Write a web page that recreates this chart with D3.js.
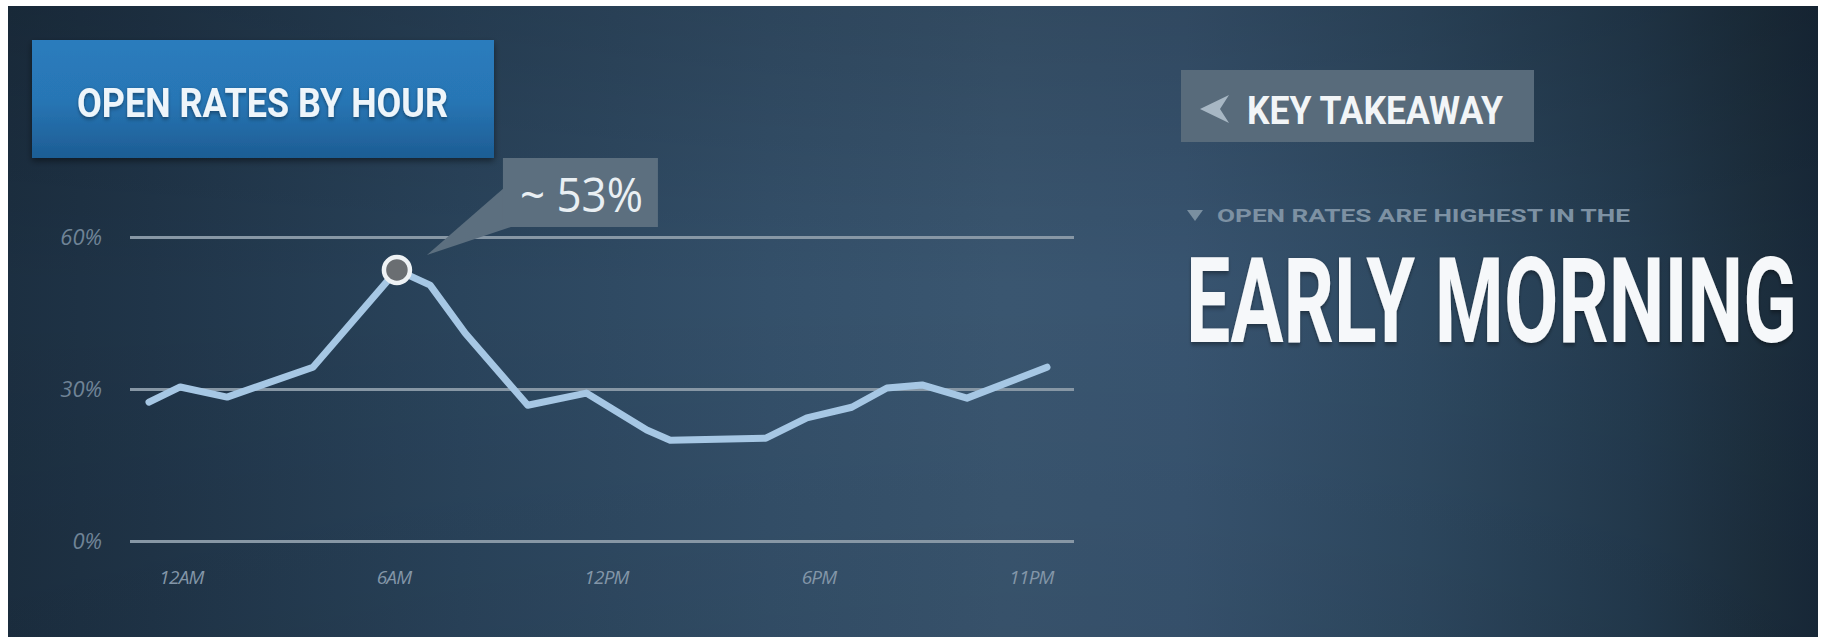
<!DOCTYPE html>
<html><head><meta charset="utf-8">
<script src="https://cdn.jsdelivr.net/npm/d3@7"></script>
<style>html,body{margin:0;padding:0;background:#fff;} svg{display:block}</style>
</head><body><svg id="c" width="1825" height="639"></svg>
<script>
// ---- data ----
const hours = [0, 0.8, 2, 4.2, 6.35, 7.2, 8.1, 9.7, 11.2, 12.75, 13.35, 15.8, 16.85, 18, 18.9, 19.8, 20.95, 23];
const openRates = [27.4, 30.4, 28.4, 34.3, 53.5, 50.5, 41.0, 26.8, 29.2, 21.9, 19.9, 20.3, 24.3, 26.4, 30.2, 30.8, 28.2, 34.3];
const yTicks = [0, 30, 60];
const yTickLabels = ["0%", "30%", "60%"];
const xTickLabels = ["12AM", "6AM", "12PM", "6PM", "11PM"];
const peakLabel = "~ 53%";
const titleText = "OPEN RATES BY HOUR";
const takeawayLabel = "KEY TAKEAWAY";
const takeawayIntro = "OPEN RATES ARE HIGHEST IN THE";
const takeawayMain = "EARLY MORNING";

const svg = d3.select("#c");
const defs = svg.append("defs");

// background gradient
const bg = defs.append("linearGradient").attr("id", "bg").attr("x1", 0).attr("x2", 1).attr("y1", 0).attr("y2", 0);
[[0, "#1c2f41"], [0.08, "#203549"], [0.25, "#2a445c"], [0.42, "#34506a"], [0.55, "#3a5670"],
 [0.65, "#385470"], [0.78, "#2e4961"], [0.9, "#233a4e"], [0.97, "#1c2e3d"], [1, "#18293a"]]
  .forEach(([o, c]) => bg.append("stop").attr("offset", o).attr("stop-color", c));
const vg = defs.append("linearGradient").attr("id", "vg").attr("x1", 0).attr("x2", 0).attr("y1", 0).attr("y2", 1);
vg.append("stop").attr("offset", 0).attr("stop-color", "#000").attr("stop-opacity", 0.14);
vg.append("stop").attr("offset", 0.45).attr("stop-color", "#000").attr("stop-opacity", 0);
vg.append("stop").attr("offset", 1).attr("stop-color", "#000").attr("stop-opacity", 0.06);
const tb = defs.append("linearGradient").attr("id", "tb").attr("x1", 0).attr("x2", 0).attr("y1", 0).attr("y2", 1);
tb.append("stop").attr("offset", 0).attr("stop-color", "#2a7cbd");
tb.append("stop").attr("offset", 0.5).attr("stop-color", "#2876b5");
tb.append("stop").attr("offset", 1).attr("stop-color", "#1d5d94");
const sh = defs.append("filter").attr("id", "sh").attr("x", "-10%").attr("y", "-10%").attr("width", "120%").attr("height", "140%");
sh.append("feDropShadow").attr("dx", 0).attr("dy", 3).attr("stdDeviation", 3).attr("flood-color", "#000").attr("flood-opacity", 0.45);
const tsh = defs.append("filter").attr("id", "tsh").attr("x", "-5%").attr("y", "-20%").attr("width", "110%").attr("height", "150%");
tsh.append("feDropShadow").attr("dx", 0).attr("dy", 1.5).attr("stdDeviation", 1.5).attr("flood-color", "#000").attr("flood-opacity", 0.4);

svg.append("rect").attr("x", 8).attr("y", 6).attr("width", 1810).attr("height", 631).attr("fill", "url(#bg)");
svg.append("rect").attr("x", 8).attr("y", 6).attr("width", 1810).attr("height", 631).attr("fill", "url(#vg)");

// scales
const x = d3.scaleLinear().domain([0, 23]).range([149, 1047]);
const y = d3.scaleLinear().domain([0, 60]).range([541, 237]);
const xLab = d3.scalePoint().domain(xTickLabels).range([181, 1031]);

// y axis with gridlines
const gAxis = svg.append("g").attr("transform", "translate(130,0)")
  .call(d3.axisLeft(y).tickValues(yTicks).tickSize(-944).tickPadding(28)
    .tickFormat((d, i) => yTickLabels[i]));
gAxis.select(".domain").remove();
gAxis.selectAll(".tick line").attr("stroke", "#8797a5").attr("stroke-width", 3);
gAxis.selectAll(".tick text").attr("fill", "#6f8396").attr("font-family", "'Open Sans', sans-serif")
  .attr("font-style", "italic").attr("font-size", 22).attr("dy", "0.32em");

// x labels
const gX = svg.append("g").attr("transform", "translate(0,541)")
  .call(d3.axisBottom(xLab).tickSize(0).tickPadding(30));
gX.select(".domain").remove();
gX.selectAll(".tick text").attr("fill", "#8396a8").attr("font-family", "'Open Sans', sans-serif")
  .attr("font-style", "italic").attr("font-size", 19).attr("letter-spacing", -0.8);

// line
const line = d3.line().x(i => x(hours[i])).y(i => y(openRates[i]));
svg.append("path").attr("d", line(d3.range(hours.length)))
  .attr("fill", "none").attr("stroke", "#a6c7e4").attr("stroke-width", 7)
  .attr("stroke-linejoin", "round").attr("stroke-linecap", "round");

// peak marker + callout
const pi = d3.maxIndex(openRates);
const px = x(hours[pi]), py = y(openRates[pi]);
const cb = { x: px + 106, y: 158, w: 155, h: 69 };
svg.append("path")
  .attr("d", `M${px + 30},${py - 15} L${cb.x + 1},${cb.y + 30} L${cb.x + 8},${cb.y + cb.h} Z`)
  .attr("fill", "#5c6f7f");
svg.append("rect").attr("x", cb.x).attr("y", cb.y).attr("width", cb.w).attr("height", cb.h).attr("fill", "#5c6f7f");
svg.append("text").attr("x", cb.x + 17).attr("y", cb.y + 54).text(peakLabel)
  .attr("fill", "#e9eff3").attr("font-family", "'Open Sans', sans-serif").attr("font-weight", 400)
  .attr("font-size", 47).attr("textLength", 123).attr("lengthAdjust", "spacingAndGlyphs");
svg.append("circle").attr("cx", px).attr("cy", py).attr("r", 13)
  .attr("fill", "#6a6e72").attr("stroke", "#eef2f5").attr("stroke-width", 4.5);

// title box
svg.append("rect").attr("x", 32).attr("y", 40).attr("width", 462).attr("height", 118)
  .attr("fill", "url(#tb)").attr("filter", "url(#sh)");
svg.append("text").attr("transform", "translate(77,117) scale(1,1.25)").text(titleText)
  .attr("fill", "#eef5fa").attr("font-family", "Roboto, sans-serif").attr("font-weight", 700)
  .attr("font-size", 33).attr("textLength", 371).attr("lengthAdjust", "spacingAndGlyphs")
  .attr("filter", "url(#tsh)");

// key takeaway box
svg.append("rect").attr("x", 1181).attr("y", 70).attr("width", 353).attr("height", 72).attr("fill", "#586b7b");
svg.append("path").attr("d", "M1200,109 L1229,95 L1220,109 L1229,123 Z").attr("fill", "#a7b7c4");
svg.append("text").attr("transform", "translate(1247,124) scale(1,1.25)").text(takeawayLabel)
  .attr("fill", "#f2f5f7").attr("font-family", "Roboto, sans-serif").attr("font-weight", 700)
  .attr("font-size", 31).attr("textLength", 256).attr("lengthAdjust", "spacingAndGlyphs");

// intro line
svg.append("path").attr("d", "M1187,210 L1203,210 L1195,221 Z").attr("fill", "#7a8fa0");
svg.append("text").attr("x", 1217).attr("y", 222).text(takeawayIntro)
  .attr("fill", "#7d91a3").attr("font-family", "Roboto, sans-serif").attr("font-weight", 700)
  .attr("font-size", 19).attr("textLength", 413).attr("lengthAdjust", "spacingAndGlyphs");

// main takeaway
svg.append("text").attr("transform", "translate(1186,342) scale(1,1.64)").text(takeawayMain)
  .attr("fill", "#f6f8fa").attr("font-family", "Roboto, sans-serif").attr("font-weight", 700)
  .attr("font-size", 72).attr("textLength", 611).attr("lengthAdjust", "spacingAndGlyphs")
  .attr("filter", "url(#tsh)");
</script></body></html>
